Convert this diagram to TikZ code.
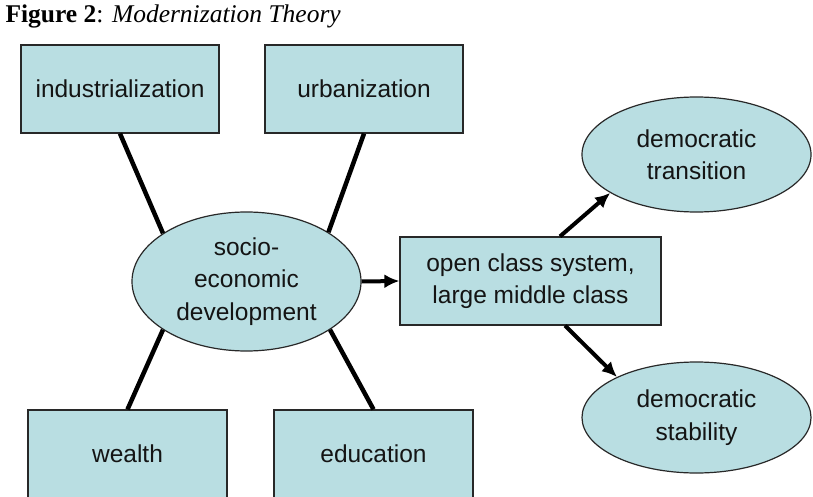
\documentclass[tikz,border=0pt]{standalone}
\usepackage{fontspec}
\setmainfont{Liberation Serif}
\newfontfamily\boxfont{Liberation Sans}
\usetikzlibrary{shapes.geometric,arrows.meta,calc}
\definecolor{boxfill}{RGB}{185,222,226}
\definecolor{boxline}{RGB}{40,40,40}
\definecolor{txt}{RGB}{20,20,20}
\tikzset{
  base/.style={fill=boxfill,draw=boxline,line width=1.2pt,text=txt,align=center,inner sep=0pt,
    font=\boxfont\fontsize{24.5}{32.5}\selectfont},
  rectbox/.style={base,rectangle,minimum width=198pt,minimum height=88pt},
  ellbox/.style={base,ellipse,minimum width=229pt},
  link/.style={line width=4.5pt,black},
  arr/.style={line width=4pt,black,-{Latex[length=15pt,width=14pt]}}
}
\begin{document}
\begin{tikzpicture}[x=1pt,y=-1pt]
\useasboundingbox (0,0) rectangle (813,497);
\node[anchor=base west,font=\fontsize{25.5}{30}\selectfont] (title) at (2,23) {\textbf{Figure 2}: \textit{Modernization Theory}};
\node[rectbox] (ind) at (120,89) {industrialization};
\node[rectbox] (urb) at (364,89) {urbanization};
\node[rectbox,minimum width=199pt] (wealth) at (127.5,454) {wealth};
\node[rectbox,minimum width=199pt] (edu) at (373.5,454) {education};
\node[ellbox,minimum height=139pt] (socio) at (246.5,281.5) {socio-\\economic\\development};
\node[rectbox,minimum width=261pt] (open) at (530.5,281) {open class system,\\large middle class};
\node[ellbox,minimum height=115pt] (trans) at (696.5,154.5) {democratic\\transition};
\node[ellbox,minimum height=111pt] (stab) at (696.5,417.5) {democratic\\stability};
\draw[link] (ind.south) -- (socio.150);
\draw[link] (urb.south) -- (socio.31);
\draw[link] (wealth.north) -- (socio.210);
\draw[link] (edu.north) -- (socio.330);
\draw[arr] (socio.east) -- (open.west);
\draw[arr] ([xshift=29.5pt]open.north) -- (trans.204);
\draw[arr] ([xshift=34.5pt]open.south) -- (stab.153);
\end{tikzpicture}
\end{document}
